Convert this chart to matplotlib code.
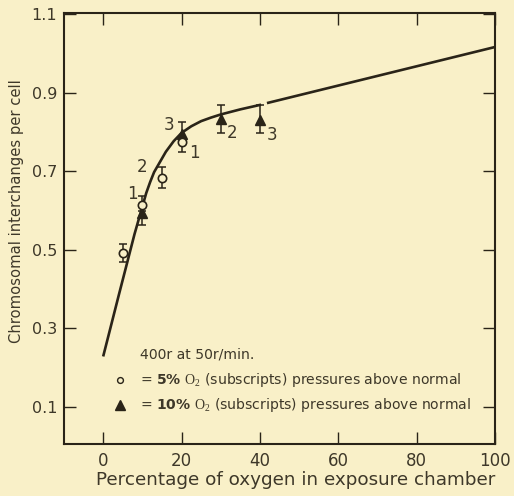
import numpy as np
import matplotlib
matplotlib.use("Agg")
import matplotlib.pyplot as plt

# ---- data -------------------------------------------------------------
# smooth hand-fitted curve through the observations
curve_x = [0, 4, 8, 10, 11, 12, 13, 14.5, 16, 18, 20, 22.5, 25, 27.5, 30, 35, 40.3,
           np.nan, 41.8, 100]
curve_y = [0.228, 0.385, 0.54, 0.61, 0.645, 0.673, 0.698, 0.724, 0.75, 0.777, 0.798,
           0.815, 0.828, 0.837, 0.845, 0.858, 0.870, np.nan, 0.874, 1.017]

# 5 % O2 series (open circles)
o5_x = [5, 10, 15, 20]
o5_y = [0.492, 0.615, 0.683, 0.776]
o5_lo = [0.470, 0.600, 0.657, 0.750]
o5_hi = [0.515, 0.636, 0.712, 0.790]
o5_sub = ["", "1", "2", "1"]

# 10 % O2 series (filled triangles)
o10_x = [10, 20, 30, 40]
o10_y = [0.593, 0.796, 0.833, 0.831]
o10_lo = [0.564, 0.780, 0.799, 0.798]
o10_hi = [0.610, 0.827, 0.869, 0.869]
o10_sub = ["", "3", "2", "3"]

x_ticks = [0, 20, 40, 60, 80, 100]
y_ticks = [0.1, 0.3, 0.5, 0.7, 0.9, 1.1]

# ---- style ------------------------------------------------------------
BG = "#F9F0C8"
INK = "#2a2418"
TXT = "#3e3829"

plt.rcParams["mathtext.fontset"] = "custom"
plt.rcParams["mathtext.rm"] = "Liberation Serif"
plt.rcParams["mathtext.bf"] = "DejaVu Sans:bold"

fig = plt.figure(figsize=(5.14, 4.96), dpi=100, facecolor=BG)
ax = fig.add_axes([0.1245, 0.105, 0.8385, 0.869], facecolor=BG)

ax.set_xlim(-10, 100)
ax.set_ylim(0.005, 1.104)

# fitted curve
ax.plot(curve_x, curve_y, color=INK, lw=1.9, solid_capstyle="butt", zorder=2)

# error bars
ebkw = dict(fmt="none", ecolor=INK, elinewidth=1.1, capsize=3.2, capthick=1.1, zorder=3)
ax.errorbar(o5_x, o5_y,
            yerr=[np.subtract(o5_y, o5_lo), np.subtract(o5_hi, o5_y)], **ebkw)
ax.errorbar(o10_x, o10_y,
            yerr=[np.subtract(o10_y, o10_lo), np.subtract(o10_hi, o10_y)], **ebkw)

# markers
ax.plot(o10_x, o10_y, linestyle="none", marker="^", ms=6.5, color=INK, zorder=4)
ax.plot(o5_x, o5_y, linestyle="none", marker="o", ms=6, mfc=BG, mec=INK, mew=1.2,
        zorder=5)

# pressure subscripts next to the points (offsets in points)
o5_off = [(0, 0), (-7, 8), (-14, 8), (9, -8)]
o10_off = [(0, 0), (-9, 6), (8, -10), (9, -11)]
for xs, ys, subs, offs in ((o5_x, o5_y, o5_sub, o5_off), (o10_x, o10_y, o10_sub, o10_off)):
    for x, y, s, (dx, dy) in zip(xs, ys, subs, offs):
        if s:
            ax.annotate(s, (x, y), xytext=(dx, dy), textcoords="offset points",
                        ha="center", va="center", fontsize=12, color=TXT, zorder=6)

# key
ax.text(9.4, 0.232, "400r at 50r/min.", fontsize=10.1, color=TXT, va="center", ha="left")
ax.plot([4.3], [0.169], linestyle="none", marker="o", ms=4.2, mfc=BG, mec=INK, mew=1.0)
ax.text(9.4, 0.169, r"= $\mathbf{5\%}$ $\mathrm{O}_{2}$ (subscripts) pressures above normal",
        fontsize=10.1, color=TXT, va="center", ha="left")
ax.plot([4.3], [0.105], linestyle="none", marker="^", ms=6.5, color=INK)
ax.text(9.4, 0.105, r"= $\mathbf{10\%}$ $\mathrm{O}_{2}$ (subscripts) pressures above normal",
        fontsize=10.1, color=TXT, va="center", ha="left")

# axes, ticks and labels
ax.set_xticks(x_ticks)
ax.set_yticks(y_ticks)
ax.set_xticklabels([str(v) for v in x_ticks])
ax.set_yticklabels([f"{v:.1f}" for v in y_ticks])
ax.tick_params(direction="in", length=8.5, width=1.0, color=INK, labelcolor=TXT,
               top=True, right=True, labeltop=False, labelright=False)
ax.tick_params(axis="x", labelsize=12, pad=6)
ax.tick_params(axis="y", labelsize=11.5, pad=5)
for sp in ax.spines.values():
    sp.set_color(INK)
    sp.set_linewidth(1.5)

ax.set_xlabel("Percentage of oxygen in exposure chamber", fontsize=13.2, color=TXT)
ax.xaxis.set_label_coords(0.538, -0.062)
ax.set_ylabel("Chromosomal interchanges per cell", fontsize=10.6, color=TXT)
ax.yaxis.set_label_coords(-0.093, 0.54)

fig.savefig("out.png", dpi=100, facecolor=BG)
